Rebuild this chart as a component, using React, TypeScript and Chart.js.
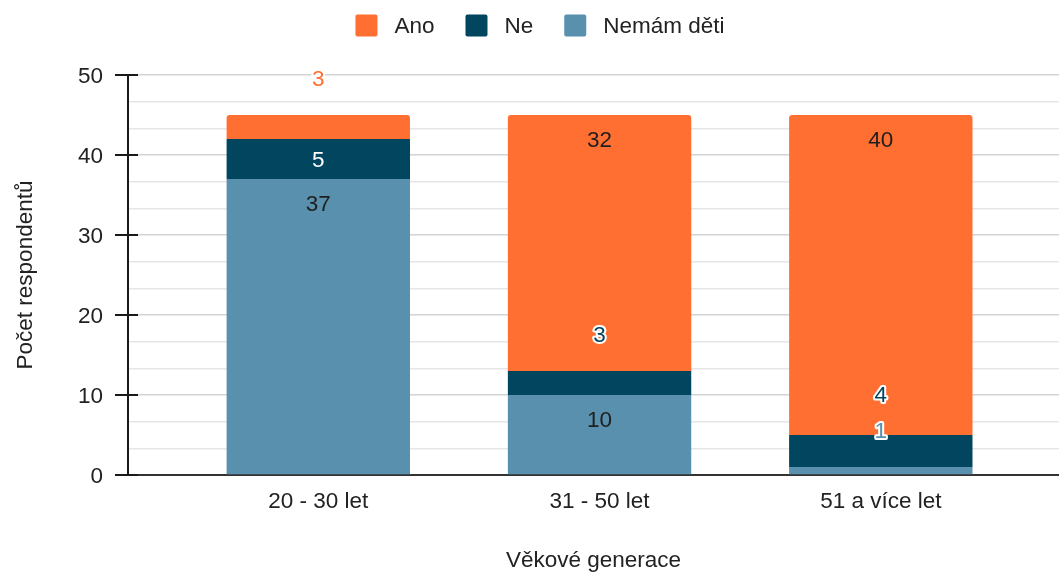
import React, { useEffect, useRef } from 'react';
import { Chart, registerables } from 'chart.js';

Chart.register(...registerables);

// ---- data ----
const CATEGORIES = ['20 - 30 let', '31 - 50 let', '51 a více let'];
const SERIES_NAMES = ['Ano', 'Ne', 'Nemám děti'];
const ANO = [3, 32, 40];
const NE = [5, 3, 4];
const NEMAM_DETI = [37, 10, 1];
const Y_MAX = 50;
const Y_MAJOR_STEP = 10;
const Y_MINOR_DIVISIONS = 3;
const X_TITLE = 'Věkové generace';
const Y_TITLE = 'Počet respondentů';

// ---- style ----
const W = 1059;
const H = 572;
const FONT_FAMILY = '"Liberation Sans", Arial, sans-serif';
const FONT_SIZE = 22.5;
const TEXT = '#222222';
const COLOR_ANO = '#ff6f31';
const COLOR_NE = '#01455f';
const COLOR_NEMAM = '#5990ae';
const PLOT_LEFT = 128;
const PLOT_TOP = 75;
const PLOT_BOTTOM = 475;
const FIRST_CENTER = 318.3;
const CAT_STEP = 281.25;
const X_MIN = -(FIRST_CENTER - PLOT_LEFT) / CAT_STEP;
const X_MAX = (W - PLOT_LEFT) / CAT_STEP + X_MIN;

const font = { family: FONT_FAMILY, size: FONT_SIZE };

const legendPlugin = {
  id: 'customLegend',
  afterDraw(chart: any) {
    const ctx = chart.ctx;
    ctx.save();
    ctx.font = `${FONT_SIZE}px ${FONT_FAMILY}`;
    const items = [...chart.data.datasets].reverse();
    const box = 22;
    const gap = 17;
    const itemGap = 31;
    const widths = items.map((d: any) => box + gap + ctx.measureText(d.label).width);
    const total = widths.reduce((a: number, b: number) => a + b, 0) + itemGap * (items.length - 1);
    let x = 540 - total / 2;
    const cy = 25.5;
    items.forEach((d: any, i: number) => {
      ctx.fillStyle = d.backgroundColor;
      ctx.beginPath();
      if (ctx.roundRect) ctx.roundRect(x, cy - box / 2, box, box, 2);
      else ctx.rect(x, cy - box / 2, box, box);
      ctx.fill();
      ctx.fillStyle = TEXT;
      ctx.textAlign = 'left';
      ctx.textBaseline = 'middle';
      ctx.fillText(d.label, x + box + gap, cy + 1);
      x += widths[i] + itemGap;
    });
    ctx.restore();
  },
};

const tickPlugin = {
  id: 'crossTicks',
  afterDraw(chart: any) {
    const ctx = chart.ctx;
    const ys = chart.scales.y;
    const left = chart.chartArea.left;
    ctx.save();
    ctx.strokeStyle = '#1a1a1a';
    ctx.lineWidth = 2;
    for (let v = 0; v <= Y_MAX; v += Y_MAJOR_STEP) {
      const py = Math.round(ys.getPixelForValue(v));
      ctx.beginPath();
      ctx.moveTo(left - 13, py);
      ctx.lineTo(left + 10, py);
      ctx.stroke();
    }
    ctx.restore();
  },
};

const INSIDE_TEXT = ['#1f1f1f', '#ffffff', '#1f1f1f'];

const labelPlugin = {
  id: 'segLabels',
  afterDatasetsDraw(chart: any) {
    const ctx = chart.ctx;
    ctx.save();
    ctx.font = `${FONT_SIZE}px ${FONT_FAMILY}`;
    ctx.textAlign = 'center';
    ctx.textBaseline = 'middle';
    const n = CATEGORIES.length;
    for (let i = 0; i < n; i++) {
      let lastOutside: number | null = null;
      chart.data.datasets.forEach((ds: any, di: number) => {
        const meta = chart.getDatasetMeta(di);
        const el = meta.data[i];
        if (!el) return;
        const { x, y, base } = el.getProps(['x', 'y', 'base'], true);
        const h = base - y;
        const text = String(ds.data[i].y);
        if (h >= 36) {
          ctx.fillStyle = INSIDE_TEXT[di];
          ctx.fillText(text, x, y + Math.min(24, h / 2) + 2);
        } else {
          let py = y - 36;
          if (lastOutside !== null && py > lastOutside - 36.5) py = lastOutside - 36.5;
          lastOutside = py;
          ctx.lineJoin = 'round';
          ctx.lineWidth = 4;
          ctx.strokeStyle = '#ffffff';
          ctx.strokeText(text, x, py + 1);
          ctx.fillStyle = ds.backgroundColor;
          ctx.fillText(text, x, py + 1);
        }
      });
    }
    ctx.restore();
  },
};

export default function App() {
  const ref = useRef<HTMLCanvasElement | null>(null);

  useEffect(() => {
    if (!ref.current) return;
    const toPoints = (arr: number[]) => arr.map((v, i) => ({ x: i, y: v }));
    const chart = new Chart(ref.current, {
      type: 'bar',
      data: {
        datasets: [
          { label: SERIES_NAMES[2], data: toPoints(NEMAM_DETI), backgroundColor: COLOR_NEMAM },
          { label: SERIES_NAMES[1], data: toPoints(NE), backgroundColor: COLOR_NE },
          { label: SERIES_NAMES[0], data: toPoints(ANO), backgroundColor: COLOR_ANO, borderRadius: 3, borderSkipped: 'start' },
        ] as any,
      },
      options: {
        responsive: false,
        animation: false,
        devicePixelRatio: 1,
        categoryPercentage: 1,
        barPercentage: 0.652,
        layout: { padding: { top: PLOT_TOP, left: 0, right: 0, bottom: 0 } },
        plugins: { legend: { display: false }, tooltip: { enabled: false }, title: { display: false } },
        scales: {
          x: {
            type: 'linear',
            stacked: true,
            offset: false,
            min: X_MIN,
            max: X_MAX,
            afterBuildTicks: (s: any) => {
              s.ticks = CATEGORIES.map((_, i) => ({ value: i }));
            },
            afterFit: (s: any) => {
              s.height = H - PLOT_BOTTOM;
            },
            ticks: {
              callback: (v: any) => CATEGORIES[v] ?? '',
              autoSkip: false,
              maxRotation: 0,
              padding: 13.5,
              font,
              color: TEXT,
            },
            grid: { drawOnChartArea: false, drawTicks: false },
            border: { display: true, color: '#333333', width: 2 },
            title: { display: true, text: X_TITLE, font, color: TEXT, padding: { top: 0, bottom: -2 } },
          },
          y: {
            stacked: true,
            min: 0,
            max: Y_MAX,
            afterBuildTicks: (s: any) => {
              const count = (Y_MAX / Y_MAJOR_STEP) * Y_MINOR_DIVISIONS;
              s.ticks = Array.from({ length: count + 1 }, (_, i) => ({ value: (i * Y_MAJOR_STEP) / Y_MINOR_DIVISIONS }));
            },
            afterFit: (s: any) => {
              s.width = PLOT_LEFT;
            },
            ticks: {
              autoSkip: false,
              callback: (v: any, i: number) => (i % Y_MINOR_DIVISIONS === 0 ? String(Math.round(v)) : ''),
              padding: 25,
              labelOffset: 2,
              font,
              color: TEXT,
            },
            grid: {
              drawTicks: false,
              color: (c: any) => (c.index % Y_MINOR_DIVISIONS === 0 ? '#d4d4d4' : '#e6e6e6'),
              lineWidth: 1.5,
            },
            border: { color: '#1a1a1a', width: 2 },
            title: { display: true, text: Y_TITLE, font, color: TEXT, padding: { top: 12.5, bottom: 0 } },
          },
        } as any,
      },
      plugins: [legendPlugin, tickPlugin, labelPlugin],
    });
    return () => chart.destroy();
  }, []);

  return (
    <div style={{ position: 'absolute', left: 0, top: 0, width: W, height: H, background: '#fff' }}>
      <canvas ref={ref} width={W} height={H} style={{ display: 'block' }} />
    </div>
  );
}
